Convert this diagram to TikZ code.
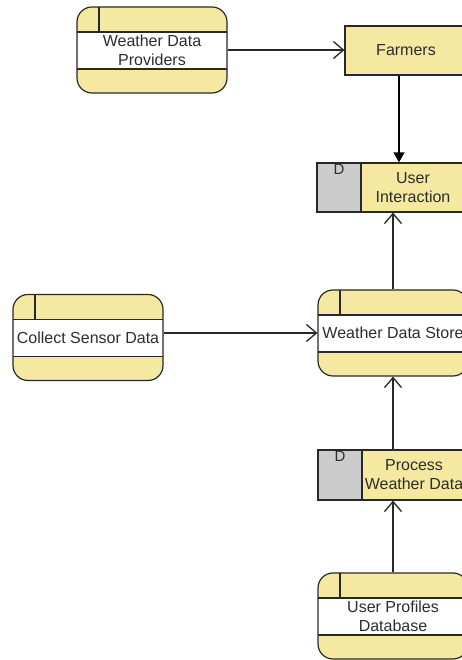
\documentclass[tikz,border=0pt]{standalone}
\usepackage{fontspec}
\setmainfont{Liberation Sans}
\usetikzlibrary{arrows.meta,positioning}
\definecolor{yel}{RGB}{245,232,160}
\definecolor{gry}{RGB}{204,204,204}
\definecolor{linec}{RGB}{40,40,40}
\definecolor{txtc}{RGB}{45,45,45}
\tikzset{
  x=1pt, y=1pt,
  base/.style={draw=linec, line width=1.2pt, inner sep=0pt, align=center, text=txtc,
    font=\fontsize{16}{19}\selectfont},
  procbox/.style={base, fill=yel, rounded corners=15pt, minimum width=150pt, minimum height=86pt,
    path picture={
      \fill[white, sharp corners] ([yshift=-25pt]path picture bounding box.north west) rectangle ([yshift=-62pt]path picture bounding box.north east);
      \draw[linec, line width=1.2pt, sharp corners]
        ([yshift=-25pt]path picture bounding box.north west) -- ([yshift=-25pt]path picture bounding box.north east)
        ([yshift=-62pt]path picture bounding box.north west) -- ([yshift=-62pt]path picture bounding box.north east)
        ([xshift=22pt]path picture bounding box.north west) -- ([xshift=22pt,yshift=-25pt]path picture bounding box.north west);
    }},
  entbox/.style={base, fill=yel, minimum height=49pt},
  dbox/.style={base, fill=gry, minimum width=44pt, minimum height=49pt},
  dlabel/.style={inner sep=0pt, text=txtc, font=\fontsize{15}{17}\selectfont, anchor=north},
  openarrow/.style={draw=linec, line width=1.3pt, -{Straight Barb[length=10pt,width=17pt,line width=1.3pt]}},
  fillarrow/.style={draw=black, line width=1.3pt, -{Triangle[length=10pt,width=11pt]}},
}
\begin{document}
\begin{tikzpicture}
\clip (0,0) rectangle (462,660);
% process boxes
\node[procbox] (wdp) at (152,610) {Weather Data\\Providers};
\node[procbox] (csd) at (88,322.5) {Collect Sensor Data};
\node[procbox] (wds) at (393,327) {Weather Data Store};
\node[procbox] (upd) at (393,44) {User Profiles\\Database};
% external entity
\node[entbox, minimum width=122pt] (farm) at (406,609.5) {Farmers};
% data stores
\node[dbox] (uiD) at (339,472.5) {};
\node[entbox, minimum width=104pt] (ui) at (413,472.5) {User\\Interaction};
\node[dlabel] (uiDl) at ([yshift=-2pt]uiD.north) {D};
\node[dbox, minimum height=50pt] (pwdD) at (340,185) {};
\node[entbox, minimum width=104pt, minimum height=50pt] (pwd) at (414,185) {Process\\Weather Data};
\node[dlabel] (pwdDl) at ([yshift=-2pt]pwdD.north) {D};
% connectors
\draw[openarrow] (wdp.east) -- (wdp.east -| farm.west);
\draw[fillarrow] ([xshift=-7pt]farm.south) -- ([xshift=-14pt]ui.north);
\draw[openarrow] (csd.east |- wds.west) -- (wds.west);
\draw[openarrow] (wds.north) -- (wds.north |- ui.south);
\draw[openarrow] (wds.south |- pwd.north) -- (wds.south);
\draw[openarrow] (upd.north) -- (upd.north |- pwd.south);
\end{tikzpicture}
\end{document}
